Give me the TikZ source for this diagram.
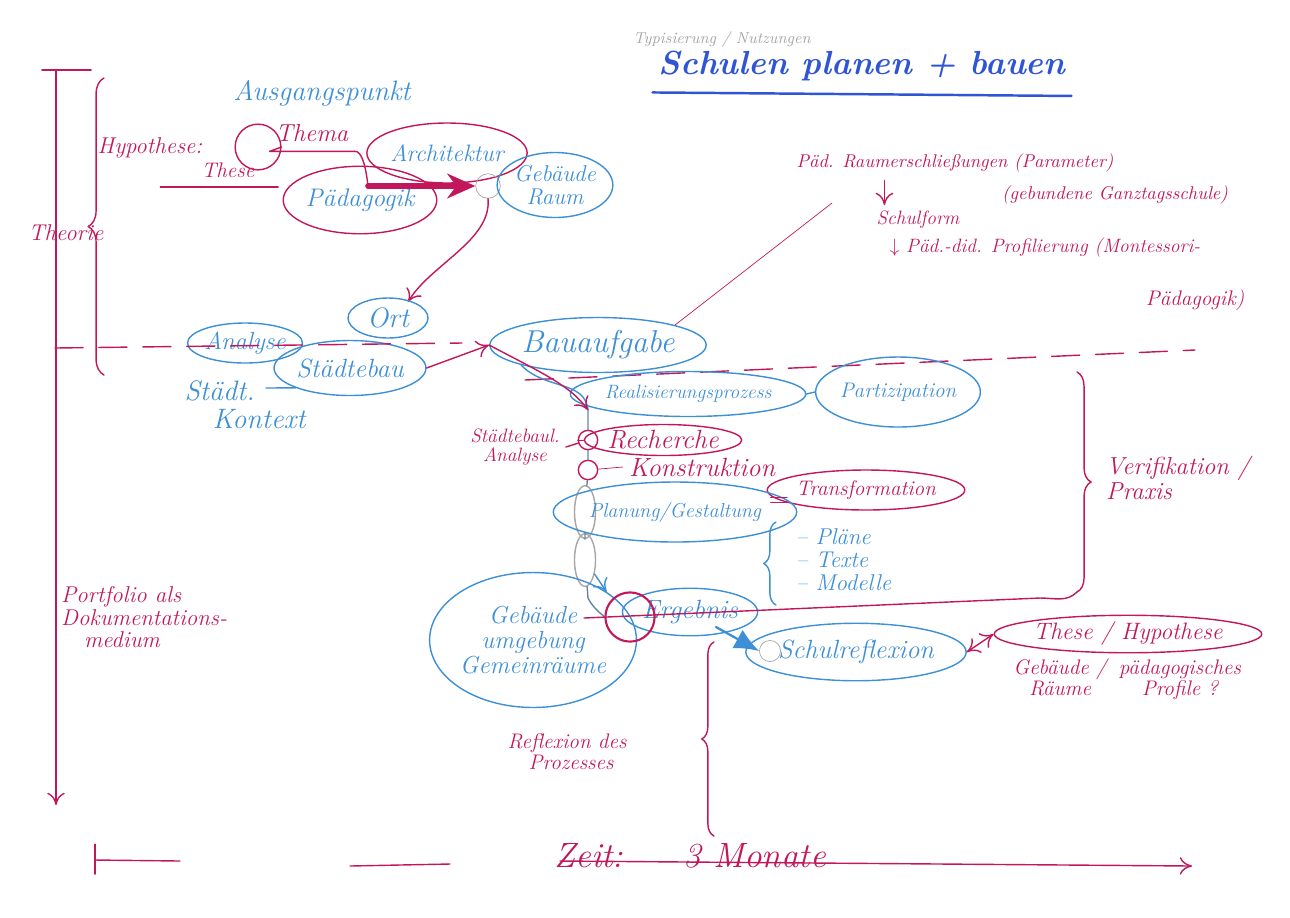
\documentclass[tikz,border=0pt]{standalone}
\usepackage{amsmath,amssymb}
\usetikzlibrary{arrows.meta,shapes.geometric,calc,decorations.pathreplacing}
\definecolor{pinkred}{HTML}{C2185B}
\definecolor{penblue}{HTML}{3D8FD6}
\definecolor{inkblue}{HTML}{2F55D4}
\newcommand{\penfs}[1]{\fontsize{#1}{#1}\selectfont}

\begin{document}
\begin{tikzpicture}[x=0.02cm, y=-0.02cm, line join=round, line cap=round, font=\itshape,
  >={To[length=7pt,width=10pt]},
  mg/.style={text=pinkred}, bl/.style={text=penblue},
  oval/.style={ellipse, thick, inner sep=0pt},
  boval/.style={oval, draw=penblue}, moval/.style={oval, draw=pinkred},
  dot/.style={circle, thick, draw=pinkred, inner sep=0pt, minimum size=#1},
  pen/.style={thick, draw=pinkred}, bpen/.style={thick, draw=penblue},
  gpen/.style={thick, draw=gray!60!penblue},
  sep/.style={pen, dash pattern=on 16pt off 9pt}]
\useasboundingbox (0,0) rectangle (1290,917);

% Titel
\node[text=inkblue, font=\itshape\bfseries\penfs{19}] (titel) at (862,66) {Schulen planen + bauen};
\draw[inkblue, line width=1.4pt] ([yshift=-3pt]titel.south west) -- ([yshift=-5pt]titel.south east);
\node[text=gray!70, font=\itshape\penfs{9}] (nutz) at (722,40) {Typisierung / Nutzungen};

% Theorie / Portfolio
\coordinate (oben) at (56,70);
\coordinate (unten) at (56,805);
\draw[pen] ([xshift=-8pt]oben) -- ([xshift=20pt]oben);
\draw[pen,->] (oben) -- (unten);
\node[mg, font=\itshape\penfs{13}] (theorie) at (66,233) {Theorie};
\draw[pen, decorate, decoration={brace, amplitude=9pt}] (104,375) -- (104,78);
\node[mg, font=\itshape\penfs{13}, align=left, anchor=north west] (portfolio) at (55,580) {Portfolio als\\Dokumentations-\\\quad medium};

% Ausgangspunkt
\node[bl, font=\itshape\penfs{16}] (ausgang) at (322,93) {Ausgangspunkt};
\node[mg, font=\itshape\penfs{13}] (hypo) at (150,148) {Hypothese:};
\node[mg, font=\itshape\penfs{12}] (these) at (228,170) {These};
\draw[pen] ([xshift=-20pt,yshift=-2pt]these.south west) -- ([xshift=10pt,yshift=-2pt]these.south east);
\node[dot=26] (kr1) at (258,147) {};
\node[mg, font=\itshape\penfs{14}] (thema) at (312,133) {Thema};
\draw[pen] (kr1.east) -- ([yshift=-2pt]thema.south west) -- ([yshift=-2pt]thema.south east);
\node[moval, bl, font=\itshape\penfs{13.5}, minimum width=2.7cm, minimum height=1.2cm] (archi) at (447,153) {Architektur};
\node[moval, bl, font=\itshape\penfs{14.5}, minimum width=2.8cm, minimum height=1.35cm] (paed) at (360,200) {Pädagogik};
\node[circle, draw=gray!70, inner sep=0pt, minimum size=14] (kr2) at (488,186) {};
\node[boval, bl, font=\itshape\penfs{13}, align=center, minimum width=1.95cm, minimum height=1.3cm] (gebraum) at (555,185) {Gebäude\\Raum};
\coordinate (knick) at (368,186);
\draw[pen] ([yshift=-2pt]thema.south east) .. controls (362,150) and (366,168) .. (knick);
\draw[draw=pinkred, line width=3.2pt, -{Stealth[length=16pt,width=14pt]}] (knick) -- (kr2.west);
\draw[pen,->] (kr2.south) .. controls (492,240) and (430,265) .. (408,302);

% Analyse
\node[boval, bl, font=\itshape\penfs{16}, minimum width=1.6cm, minimum height=0.8cm] (ort) at (388,318) {Ort};
\node[boval, bl, font=\itshape\penfs{14}, minimum width=1.8cm, minimum height=0.8cm] (analyse) at (245,343) {Analyse};
\node[boval, bl, font=\itshape\penfs{15}, minimum width=2.6cm, minimum height=1.1cm] (staedtebau) at (350,368) {Städtebau};
\node[bl, font=\itshape\penfs{16}, align=left] (kontext) at (245,405) {Städt.\\\quad Kontext};
\draw[bpen] (266,388) -- (staedtebau.200);
\coordinate (sepa) at (55,348);
\coordinate (sepb) at (462,343);
\draw[sep] (sepa) -- (sepb);
\node[boval, bl, font=\itshape\penfs{18}, minimum width=3.4cm, minimum height=1.1cm] (bauauf) at (598,345) {Bauaufgabe};
\draw[pen,->] (staedtebau.east) -- (bauauf.west);
\coordinate (sepc) at (525,380);
\coordinate (sepd) at (1195,350);
\draw[sep] (sepc) -- (sepd);

% Parameter
\node[mg, font=\itshape\penfs{10.5}] (raum) at (955,163) {Päd. Raumerschließungen (Parameter)};
\node[mg, font=\itshape\penfs{10.5}] (ganztag) at (1115,195) {(gebundene Ganztagsschule)};
\node[mg, font=\itshape\penfs{11}] (schulform) at (918,220) {Schulform};
\node[mg, font=\itshape\penfs{11}] (profil) at (1045,248) {$\downarrow$ Päd.-did. Profilierung (Montessori-};
\node[mg, font=\itshape\penfs{12}] (montessori) at (1195,300) {Pädagogik)};
\draw[pen,->] ([xshift=8pt,yshift=14pt]schulform.north west) -- ([xshift=8pt]schulform.north west);
\draw[draw=pinkred] (bauauf.north east) -- (832,203);

% Realisierung
\node[boval, bl, font=\itshape\penfs{11}, minimum width=3.5cm, minimum height=0.9cm] (real) at (688,394) {Realisierungsprozess};
\node[boval, bl, font=\itshape\penfs{12}, minimum width=2.8cm, minimum height=1.4cm] (parti) at (898,392) {Partizipation};
\draw[bpen] (real.east) -- (parti.west);
\coordinate (p0) at (588,410);
\node[dot=11] (k3) at (588,440) {};
\node[dot=11] (k4) at (588,470) {};
\node[ellipse, thick, draw=gray!70, inner sep=0pt, minimum width=12, minimum height=30] (k5) at (585,512) {};
\node[ellipse, thick, draw=gray!70, inner sep=0pt, minimum width=12, minimum height=30] (k6) at (585,560) {};
\coordinate (p5) at (588,598);
\draw[bpen] (bauauf.south west) .. controls (545,390) and (585,380) .. (p0);
\draw[pen,->] (bauauf.west) .. controls (540,372) and (570,385) .. (p0);
\node[mg, font=\itshape\penfs{11}, align=center] (stanalyse) at (515,447) {Städtebaul.\\Analyse};
\draw[pen] (stanalyse.east) -- (k3);
\node[moval, mg, font=\itshape\penfs{15}, minimum width=2.9cm, minimum height=0.62cm] (recherche) at (663,440) {Recherche};
\node[mg, font=\itshape\penfs{15}] (konstr) at (702,467) {Konstruktion};
\draw[draw=pinkred] (k3) -- (recherche.west);
\draw[draw=pinkred] (k4) -- (konstr.west);
\node[moval, mg, font=\itshape\penfs{12}, minimum width=2.9cm, minimum height=0.8cm] (transf) at (866,490) {Transformation};
\node[boval, bl, font=\itshape\penfs{11.5}, minimum width=3.7cm, minimum height=1.2cm] (planung) at (675,512) {Planung/Gestaltung};
\node[mg, font=\penfs{16}] (gleich) at (779,502) {=};
\node[bl, font=\itshape\penfs{13}, align=left, anchor=west] (liste) at (790,560) {-- Pläne\\-- Texte\\-- Modelle};
\draw[bpen, decorate, decoration={brace, amplitude=7pt}] (776,605) -- (776,522);

% Ergebnis
\node[boval, bl, font=\itshape\penfs{14}, align=center, minimum width=3cm, minimum height=2.7cm] (geb) at (533,640) {Gebäude\\umgebung\\Gemeinräume};
\draw[bpen,->] (k6) -- (geb.north east);
\node[boval, bl, font=\itshape\penfs{15}, minimum width=2.6cm, minimum height=0.95cm] (ergebnis) at (690,612) {Ergebnis};
\node[circle, draw=pinkred, line width=1.2pt, inner sep=0pt, minimum width=20, minimum height=28] (kr3) at (630,617) {};
\draw[gpen] (p0) -- (k3) -- (k4) -- (k5) -- (k6) -- (p5) .. controls (595,612) and (608,618) .. (kr3.west);
\node[boval, bl, font=\itshape\penfs{15}, minimum width=4.3cm, minimum height=1.15cm] (schulref) at (856,652) {Schulreflexion};
\node[circle, draw=gray!70, inner sep=0pt, minimum size=12] (kr4) at (770,651) {};
\draw[draw=penblue, line width=1.3pt, -{Latex[length=14pt,width=12pt]}] (716,627) -- (kr4.west);

% Verifikation
\coordinate (vt) at (1077,372);
\coordinate (vb) at (1077,592);
\draw[pen, decorate, decoration={brace, amplitude=8pt}] (vt) -- (vb);
\node[mg, font=\itshape\penfs{14}, align=left, anchor=west] (verif) at (1100,478) {Verifikation /\\Praxis};
\coordinate (vl) at (584,618);
\draw[pen] (vb) to[out=225, in=0] (1040,598) -- (vl);

% Thesen
\node[moval, mg, font=\itshape\penfs{13.5}, minimum width=3.9cm, minimum height=0.75cm] (thesen) at (1128,634) {These / Hypothese};
\draw[pen,<->] (schulref.east) -- (thesen.west);
\node[mg, font=\itshape\penfs{12}, align=center] (gebraeume) at (1060,677) {Gebäude /\\Räume};
\node[mg, font=\itshape\penfs{12}, align=center] (profile) at (1180,680) {pädagogisches\\Profile ?};

% Reflexion
\coordinate (rt) at (714,642);
\coordinate (rb) at (714,836);
\draw[pen, decorate, decoration={brace, amplitude=7pt}] (rb) -- (rt);
\node[mg, font=\itshape\penfs{12}, align=left] (reflex) at (567,752) {Reflexion des\\\quad Prozesses};

% Zeitachse
\coordinate (z0) at (95,860);
\coordinate (z1) at (180,861);
\coordinate (z2) at (350,866);
\coordinate (z3) at (450,864);
\coordinate (z4) at (560,861);
\coordinate (z5) at (1192,866);
\draw[pen] ([yshift=9pt]z0) -- ([yshift=-8pt]z0);
\draw[pen] (z0) -- (z1);
\draw[pen] (z2) -- (z3);
\draw[pen,->] (z4) -- (z5);
\node[mg, font=\itshape\penfs{20}, inner sep=1pt] (zeit) at (690,856) {Zeit:\hspace{1.2cm}3 Monate};
\end{tikzpicture}
\end{document}
